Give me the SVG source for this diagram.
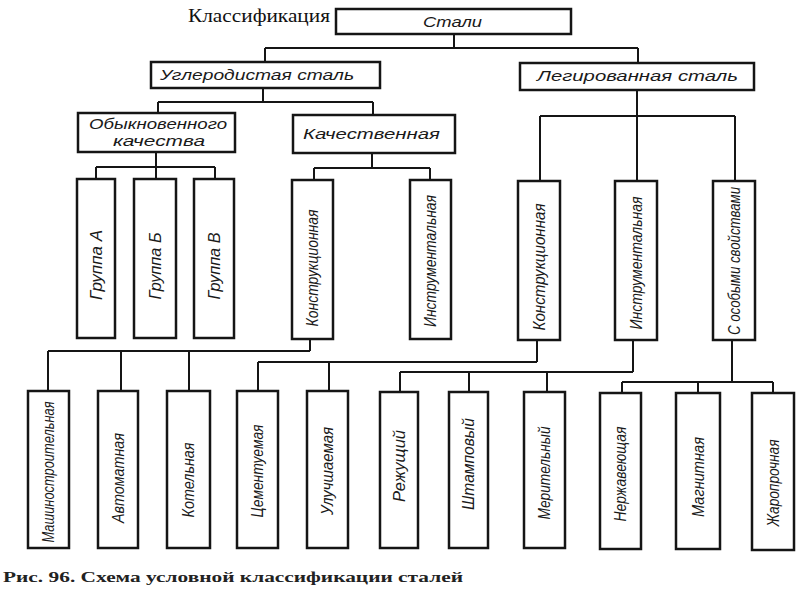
<svg xmlns="http://www.w3.org/2000/svg" width="800" height="600" viewBox="0 0 800 600">
<style>
.b{fill:#fff;stroke:#151515;stroke-width:2.5}
.c{fill:none;stroke:#151515;stroke-width:2}
.t{font-family:"Liberation Sans",Arial,sans-serif;font-style:italic;font-size:14px;fill:#1a1a1a}
.v{font-family:"Liberation Sans",Arial,sans-serif;font-style:italic;font-size:16px;fill:#1a1a1a;text-anchor:middle}
</style>
<rect width="800" height="600" fill="#fff"/>
<text x="188" y="22" font-family="Liberation Serif,serif" font-size="18" fill="#111" textLength="142" lengthAdjust="spacingAndGlyphs">Классификация</text>
<g id="connectors" class="c">
<path d="M454 34V48M265 48H638M265 48V62M638 48V63"/>
<path d="M263 88V102M158 102H373M158 102V113M373 102V115"/>
<path d="M156 152V167M96 167H215M96 167V179M156 167V179M215 167V179"/>
<path d="M372 153V168M314 168H430M314 168V180M430 168V180"/>
<path d="M637 90V116M540 116H735M540 116V181M637 116V181M735 116V181"/>
<path d="M310 339V351M48 351H310M48 351V391M121 351V391M189 351V391"/>
<path d="M537 340V362M258 362H537M258 362V391M329 362V391"/>
<path d="M633 340V372M400 372H633M400 372V392M469 372V392M547 372V392"/>
<path d="M732 340V382M622 382H773M622 382V393M698 382V393M773 382V393"/>
</g>
<g id="n-stali"><rect class="b" x="336" y="9" width="235" height="25"/><text class="t" x="423" y="27" textLength="59" lengthAdjust="spacingAndGlyphs">Стали</text></g>
<g id="n-uglerod"><rect class="b" x="151" y="62" width="229" height="26"/><text class="t" x="160" y="80" textLength="194" lengthAdjust="spacingAndGlyphs">Углеродистая сталь</text></g>
<g id="n-legir"><rect class="b" x="520" y="63" width="234" height="27"/><text class="t" x="537" y="81" textLength="201" lengthAdjust="spacingAndGlyphs">Легированная сталь</text></g>
<g id="n-obykn"><rect class="b" x="78" y="113" width="157" height="39"/><text class="t" x="89" y="129" textLength="138" lengthAdjust="spacingAndGlyphs">Обыкновенного</text><text class="t" x="113" y="146" textLength="92" lengthAdjust="spacingAndGlyphs">качества</text></g>
<g id="n-kachest"><rect class="b" x="293" y="115" width="162" height="38"/><text class="t" x="303" y="139" textLength="137" lengthAdjust="spacingAndGlyphs">Качественная</text></g>
<g id="n-grA"><rect class="b" x="77" y="179" width="38" height="159"/><text class="v" transform="translate(96 265) rotate(-90)" y="6" textLength="70" lengthAdjust="spacingAndGlyphs">Группа А</text></g>
<g id="n-grB"><rect class="b" x="134" y="179" width="42" height="159"/><text class="v" transform="translate(155 266) rotate(-90)" y="6" textLength="67" lengthAdjust="spacingAndGlyphs">Группа Б</text></g>
<g id="n-grV"><rect class="b" x="194" y="179" width="40" height="159"/><text class="v" transform="translate(214 266) rotate(-90)" y="6" textLength="67" lengthAdjust="spacingAndGlyphs">Группа В</text></g>
<g id="n-konstr1"><rect class="b" x="292" y="180" width="41" height="159"/><text class="v" transform="translate(312 268) rotate(-90)" y="6" textLength="117" lengthAdjust="spacingAndGlyphs">Конструкционная</text></g>
<g id="n-instr1"><rect class="b" x="410" y="180" width="41" height="159"/><text class="v" transform="translate(430 261) rotate(-90)" y="6" textLength="132" lengthAdjust="spacingAndGlyphs">Инструментальная</text></g>
<g id="n-konstr2"><rect class="b" x="518" y="181" width="42" height="159"/><text class="v" transform="translate(539 267) rotate(-90)" y="6" textLength="127" lengthAdjust="spacingAndGlyphs">Конструкционная</text></g>
<g id="n-instr2"><rect class="b" x="615" y="181" width="42" height="159"/><text class="v" transform="translate(636 263) rotate(-90)" y="6" textLength="133" lengthAdjust="spacingAndGlyphs">Инструментальная</text></g>
<g id="n-osob"><rect class="b" x="713" y="181" width="42" height="159"/><text class="v" transform="translate(734 261) rotate(-90)" y="6" textLength="148" lengthAdjust="spacingAndGlyphs">С особыми свойствами</text></g>
<g id="n-mash"><rect class="b" x="28" y="391" width="41" height="157"/><text class="v" transform="translate(48 472) rotate(-90)" y="6" textLength="141" lengthAdjust="spacingAndGlyphs">Машиностроительная</text></g>
<g id="n-avto"><rect class="b" x="98" y="391" width="40" height="157"/><text class="v" transform="translate(118 478) rotate(-90)" y="6" textLength="90" lengthAdjust="spacingAndGlyphs">Автоматная</text></g>
<g id="n-kotel"><rect class="b" x="167" y="391" width="43" height="157"/><text class="v" transform="translate(188 480) rotate(-90)" y="6" textLength="75" lengthAdjust="spacingAndGlyphs">Котельная</text></g>
<g id="n-cement"><rect class="b" x="237" y="391" width="41" height="157"/><text class="v" transform="translate(257 471) rotate(-90)" y="6" textLength="93" lengthAdjust="spacingAndGlyphs">Цементуемая</text></g>
<g id="n-uluch"><rect class="b" x="307" y="391" width="41" height="157"/><text class="v" transform="translate(327 471) rotate(-90)" y="6" textLength="88" lengthAdjust="spacingAndGlyphs">Улучшаемая</text></g>
<g id="n-rezh"><rect class="b" x="380" y="392" width="38" height="156"/><text class="v" transform="translate(399 466) rotate(-90)" y="6" textLength="72" lengthAdjust="spacingAndGlyphs">Режущий</text></g>
<g id="n-shtamp"><rect class="b" x="449" y="392" width="39" height="156"/><text class="v" transform="translate(468 464) rotate(-90)" y="6" textLength="92" lengthAdjust="spacingAndGlyphs">Штамповый</text></g>
<g id="n-merit"><rect class="b" x="524" y="392" width="41" height="156"/><text class="v" transform="translate(544 473) rotate(-90)" y="6" textLength="93" lengthAdjust="spacingAndGlyphs">Мерительный</text></g>
<g id="n-nerzh"><rect class="b" x="600" y="393" width="41" height="156"/><text class="v" transform="translate(620 474) rotate(-90)" y="6" textLength="95" lengthAdjust="spacingAndGlyphs">Нержавеющая</text></g>
<g id="n-magn"><rect class="b" x="676" y="393" width="44" height="156"/><text class="v" transform="translate(698 477) rotate(-90)" y="6" textLength="80" lengthAdjust="spacingAndGlyphs">Магнитная</text></g>
<g id="n-zharo"><rect class="b" x="752" y="393" width="42" height="157"/><text class="v" transform="translate(773 483) rotate(-90)" y="6" textLength="87" lengthAdjust="spacingAndGlyphs">Жаропрочная</text></g>
<text x="3" y="582" font-family="Liberation Serif,serif" font-weight="bold" font-size="15" fill="#222" textLength="460" lengthAdjust="spacingAndGlyphs">Рис. 96. Схема условной классификации сталей</text>
</svg>
